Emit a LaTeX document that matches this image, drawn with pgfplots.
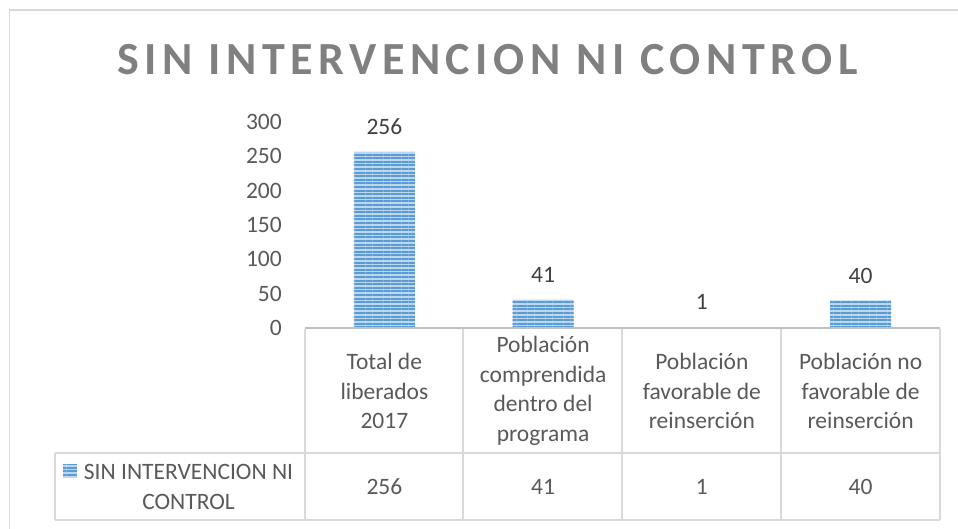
\documentclass[border=0pt]{standalone}
\usepackage{pgfplots}
\pgfplotsset{compat=1.18}
\usepackage{fontspec}
\setmainfont{Carlito}
\newfontfamily\titlefont[LetterSpace=12]{Carlito}
\usetikzlibrary{patterns.meta}
\definecolor{barblue}{HTML}{5B9BD5}
\definecolor{barlight}{HTML}{BDD7EE}
\definecolor{txt}{HTML}{595959}
\definecolor{lbl}{HTML}{404040}
\definecolor{gridc}{HTML}{D9D9D9}
\definecolor{axc}{HTML}{BFBFBF}
\definecolor{ttl}{HTML}{808080}
\newcommand{\cellfont}{\fontsize{23.5}{29.5}\selectfont}
\begin{document}
\begin{tikzpicture}
\useasboundingbox (0pt,0pt) rectangle (958pt,529pt);
% outer frame
\draw[gridc, line width=1.5pt] (9.5pt,0pt) -- (9.5pt,519pt) -- (958pt,519pt);
\node[anchor=base, font=\titlefont\bfseries\fontsize{46}{50}\selectfont, text=ttl] at (487.5pt,454pt) {SIN INTERVENCION NI CONTROL};
\begin{axis}[
  at={(305pt,201pt)}, anchor=south west,
  scale only axis, width=635pt, height=206.25pt,
  xmin=-0.5, xmax=3.5, ymin=0, ymax=300,
  clip=false,
  axis line style={draw=none},
  tick style={draw=none},
  major tick length=0pt,
  ytick={0,50,...,300},
  xtick={0,1,2,3},
  xticklabels={{Total de\\liberados\\2017},{Población\\comprendida\\dentro del\\programa},{Población\\favorable de\\reinserción},{Población no\\favorable de\\reinserción}},
  xticklabel style={font=\cellfont, text=txt, anchor=center, align=center, yshift=-63pt, inner sep=0pt},
  yticklabel style={font=\cellfont, text=txt, anchor=east, inner sep=0pt, xshift=-23pt},
  /pgf/number format/assume math mode=true,
  ybar, bar width=61pt,
  nodes near coords,
  every node near coord/.append style={font=\cellfont, text=lbl, anchor=center, yshift=25pt},
]
\addplot[draw=none, fill=barlight, postaction={pattern={Lines[angle=0,distance=3.6pt,line width=2.1pt]}, pattern color=barblue}]
  coordinates {(0,256) (1,41) (2,1) (3,40)};
\node[font=\cellfont, text=txt] at (axis cs:0,0) [yshift=-159pt] {256};
\node[font=\cellfont, text=txt] at (axis cs:1,0) [yshift=-159pt] {41};
\node[font=\cellfont, text=txt] at (axis cs:2,0) [yshift=-159pt] {1};
\node[font=\cellfont, text=txt] at (axis cs:3,0) [yshift=-159pt] {40};
\end{axis}
% table lines
\begin{scope}[gridc, line width=1.5pt]
\draw (305pt,200pt) -- (305pt,9pt);
\draw (463pt,200pt) -- (463pt,9pt);
\draw (622pt,200pt) -- (622pt,9pt);
\draw (781pt,200pt) -- (781pt,9pt);
\draw (940pt,200pt) -- (940pt,9pt);
\draw (55pt,76pt) -- (940pt,76pt);
\draw (55pt,9pt) -- (940pt,9pt);
\draw (55pt,9pt) -- (55pt,76pt);
\end{scope}
\draw[axc, line width=2pt] (305pt,200.5pt) -- (940pt,200.5pt);
% legend key
\fill[barlight] (63pt,51pt) rectangle (77pt,64pt);
\path[pattern={Lines[angle=0,distance=3.6pt,line width=2.1pt]}, pattern color=barblue] (63pt,51pt) rectangle (77pt,64pt);
\node[font=\cellfont, text=txt, align=center] at (188.5pt,42pt) {SIN INTERVENCION NI\\CONTROL};
\end{tikzpicture}
\end{document}
